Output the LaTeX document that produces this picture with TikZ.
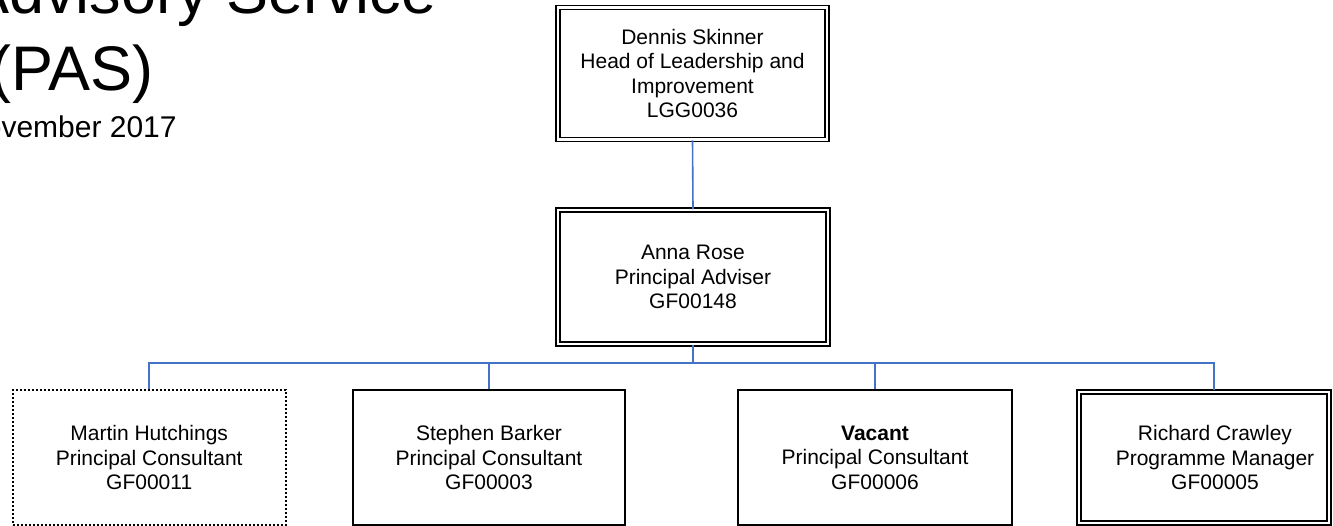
\documentclass[tikz,border=0pt]{standalone}
\usepackage{fontspec}
\setmainfont{Liberation Sans}
\definecolor{conn}{RGB}{68,114,196}
\tikzset{
  box/.style={draw=black, line width=1.8pt, fill=white, align=center, inner sep=0pt,
    font=\fontsize{21}{24.5}\selectfont},
  dbox/.style={box, double=white, double distance=2.6pt, line width=1.5pt},
  dotbox/.style={box, dash pattern=on 2pt off 2pt, line width=1.8pt},
  link/.style={draw=conn, line width=1.6pt},
  ttl/.style={anchor=base west, inner sep=0pt, font=\fontsize{63}{72}\selectfont},
  sub/.style={anchor=base west, inner sep=0pt, font=\fontsize{30}{34}\selectfont}
}
\begin{document}
\begin{tikzpicture}[x=1pt,y=-1pt]
\useasboundingbox (0,0) rectangle (1333,526);
% title
\node[ttl] (t1) at (-33,14) {Advisory Service};
\node[ttl] (t2) at (-10,91) {(PAS)};
\node[sub] (t3) at (-37,138) {November 2017};
% boxes
\node[dbox, minimum width=269pt, minimum height=132pt] (ds) at (692.5,73.6)
  {Dennis Skinner\\Head of Leadership and\\Improvement\\LGG0036};
\node[dbox, minimum width=270pt, minimum height=134pt] (ar) at (693,277)
  {Anna Rose\\Principal Adviser\\GF00148};
\node[dotbox, minimum width=273pt, minimum height=135pt] (mh) at (149.2,457.5)
  {Martin Hutchings\\Principal Consultant\\GF00011};
\node[box, minimum width=272pt, minimum height=135pt] (sb) at (489,457.5)
  {Stephen Barker\\Principal Consultant\\GF00003};
\node[box, minimum width=274pt, minimum height=135pt] (vc) at (875,457.5)
  {\textbf{Vacant}\\Principal Consultant\\GF00006};
\node[dbox, minimum width=250pt, minimum height=131pt] (rc) at (1204,457.5) {};
\node[align=center, inner sep=0pt, font=\fontsize{21}{24.5}\selectfont] (rct) at (1215,457.5)
  {Richard Crawley\\Programme Manager\\GF00005};
% connectors
\coordinate (bus) at (693,363);
\coordinate (rcin) at (1214,390);
\draw[link] (ds.south) -- (ar.north);
\draw[link] (ar.south) -- (bus);
\draw[link] (mh.north) -- (bus -| mh.north) -- (bus -| rcin) -- (rcin);
\draw[link] (sb.north) -- (bus -| sb.north);
\draw[link] (vc.north) -- (bus -| vc.north);
\end{tikzpicture}
\end{document}
